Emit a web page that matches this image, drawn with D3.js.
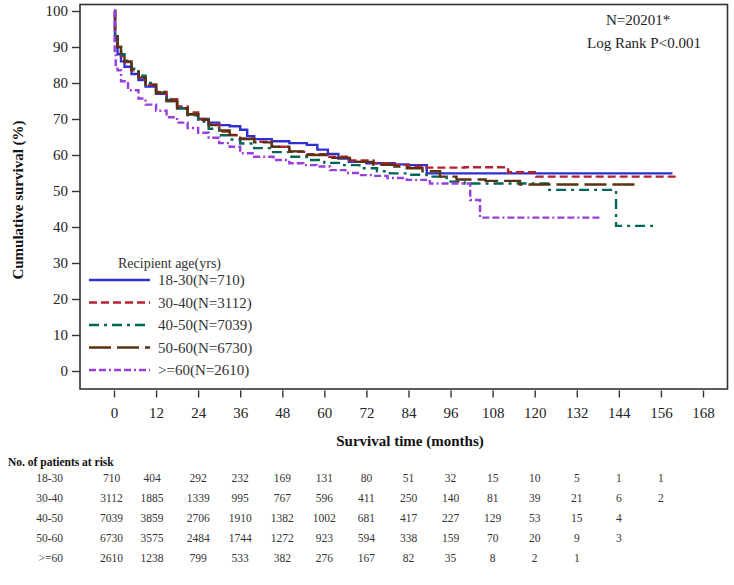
<!DOCTYPE html>
<html>
<head>
<meta charset="utf-8">
<script src="https://cdn.jsdelivr.net/npm/d3@7"></script>
<style>
  html, body { margin: 0; padding: 0; background: #fff; }
  svg { display: block; }
  text { font-family: "Liberation Serif", "Times New Roman", serif; }
</style>
</head>
<body>
<svg id="chart" width="734" height="585"></svg>
<script>
// ---------------- DATA ----------------
const groupLabels = ["18-30(N=710)", "30-40(N=3112)", "40-50(N=7039)", "50-60(N=6730)", ">=60(N=2610)"];
const riskLabels = ["18-30", "30-40", "40-50", "50-60", ">=60"];
const xTicks = [0, 12, 24, 36, 48, 60, 72, 84, 96, 108, 120, 132, 144, 156, 168];
const yTicks = [0, 10, 20, 30, 40, 50, 60, 70, 80, 90, 100];

// Kaplan-Meier steps [month, survival %]
const surv18_30 = [[0,100],[0.3,92],[1,88],[2,86],[3,84.5],[5,82.5],[7,80.8],[9,79],[12,77],[15,75],[18,73],[21,71.3],[24,70],[27,69],[30,68.3],[33,68],[36,67],[38,65.2],[40,64.4],[45,63.8],[50,63.3],[55,62.8],[58,61.5],[61,60.3],[64,59],[67,58.1],[72,57.7],[80,57.4],[84,57.2],[89.2,54.9],[159.3,54.9]];
const surv30_40 = [[0,100],[0.3,93],[1,90],[2,87.5],[3,85.8],[5,83.5],[7,81.5],[9,79.5],[12,77.5],[15,75.5],[18,73.5],[21,71.8],[24,70],[27,68.5],[30,66.5],[33,65.5],[36,64.6],[40,63.7],[45,62.3],[50,60.9],[55,60.2],[61,59.5],[67,58.5],[74,57.7],[80,57.2],[84,56.8],[88,56.5],[100,56.6],[112.4,55.2],[120.4,54.0],[160.5,54.0]];
const surv40_50 = [[0,100],[0.3,93],[1,90],[2,88],[3,86.2],[5,84],[7,82],[9,80],[12,77.5],[15,75.3],[18,73],[21,71],[24,69.3],[27,67.3],[30,65.5],[33,64.3],[36,63.2],[40,61.9],[45,60.8],[50,59.5],[55,58.6],[60,57.8],[64.5,57.2],[70,56.3],[75,55.5],[78.7,54.9],[84,54.5],[89.2,54.0],[94.9,52.6],[100,52.1],[123.8,50.3],[143.2,40.3],[154.9,40.3]];
const surv50_60 = [[0,100],[0.3,93],[1,90],[2,87.8],[3,86],[5,83.5],[7,81.5],[9,79.5],[12,77.3],[15,75],[18,73],[21,71.3],[24,69.8],[27,68.3],[30,66.8],[33,65.6],[36,64.4],[40,63.5],[45,62.3],[50,61.0],[55,60],[61,59.2],[67.3,58.1],[74,57.3],[80,56.8],[83.5,56.3],[88,55.5],[93,54.0],[97.7,53.2],[106,52.8],[115.8,51.8],[149.5,51.8]];
const surv60plus = [[0,100],[0.2,88],[0.5,85],[1,83.5],[2,80.5],[4,78],[7,75.7],[9,74],[12,72.3],[15,70.5],[18,69],[21,67.5],[24,66.2],[27,64.8],[30,63.3],[33,62.3],[36,60.5],[40,59.5],[45.5,58.6],[50,57.7],[54,57.2],[57.8,56.8],[61.6,55.8],[66,55],[70,54.4],[74,54.2],[78,53.6],[83.5,53.1],[90.1,52.1],[101.6,47.5],[104.4,42.6],[138.6,42.6]];

// Numbers at risk, per group, at xTicks
const risk18_30 = [710, 404, 292, 232, 169, 131, 80, 51, 32, 15, 10, 5, 1, 1];
const risk30_40 = [3112, 1885, 1339, 995, 767, 596, 411, 250, 140, 81, 39, 21, 6, 2];
const risk40_50 = [7039, 3859, 2706, 1910, 1382, 1002, 681, 417, 227, 129, 53, 15, 4];
const risk50_60 = [6730, 3575, 2484, 1744, 1272, 923, 594, 338, 159, 70, 20, 9, 3];
const risk60plus = [2610, 1238, 799, 533, 382, 276, 167, 82, 35, 8, 2, 1];

// ---------------- STYLE ----------------
const series = [surv18_30, surv30_40, surv40_50, surv50_60, surv60plus];
const riskRows = [risk18_30, risk30_40, risk40_50, risk50_60, risk60plus];
const colors = ["#2f2fd6", "#b42232", "#00665a", "#5a3210", "#9a3ee0"];
const dashes = [null, "8,4", "10,5,3,5", "22,6", "7,3,7,3,2,3"];

const svg = d3.select("#chart");
const frame = {left: 80, right: 727.5, top: 4.5, bottom: 389};

const x = d3.scaleLinear().domain([0, 168]).range([114, 703]);
const y = d3.scaleLinear().domain([0, 100]).range([371, 11]);

// frame
svg.append("rect")
  .attr("x", frame.left).attr("y", frame.top)
  .attr("width", frame.right - frame.left).attr("height", frame.bottom - frame.top)
  .attr("fill", "none").attr("stroke", "#333").attr("stroke-width", 1.6);

// y axis
const yAxis = svg.append("g").attr("transform", `translate(${frame.left},0)`)
  .call(d3.axisLeft(y).tickValues(yTicks).tickSize(8).tickPadding(4));
yAxis.select(".domain").remove();
yAxis.selectAll("line").attr("stroke", "#333").attr("stroke-width", 1.4);
yAxis.selectAll("text").attr("font-size", 15).attr("fill", "#222")
  .style("font-family", "'Liberation Serif', serif");

// x axis
const xAxis = svg.append("g").attr("transform", `translate(0,${frame.bottom + 1.5})`)
  .call(d3.axisBottom(x).tickValues(xTicks).tickSize(7).tickPadding(10));
xAxis.select(".domain").remove();
xAxis.selectAll("line").attr("stroke", "#333").attr("stroke-width", 1.4);
xAxis.selectAll("text").attr("font-size", 15).attr("fill", "#222")
  .style("font-family", "'Liberation Serif', serif");

// axis titles
svg.append("text").attr("x", 410).attr("y", 446).attr("text-anchor", "middle")
  .attr("font-size", 15).attr("font-weight", "bold").attr("fill", "#111")
  .text("Survival time (months)");
svg.append("text").attr("transform", "translate(23,200) rotate(-90)")
  .attr("text-anchor", "middle").attr("font-size", 15).attr("font-weight", "bold").attr("fill", "#111")
  .text("Cumulative survival (%)");

// annotations
svg.append("text").attr("x", 606).attr("y", 25).attr("font-size", 15).attr("fill", "#222").text("N=20201*");
svg.append("text").attr("x", 587).attr("y", 48).attr("font-size", 15).attr("fill", "#222").text("Log Rank P<0.001");

// curves
const line = d3.line().x(d => x(d[0])).y(d => y(d[1])).curve(d3.curveStepAfter);
series.forEach((s, i) => {
  svg.append("path").datum(s)
    .attr("d", line)
    .attr("fill", "none")
    .attr("stroke", colors[i])
    .attr("stroke-width", 2.4)
    .attr("stroke-dasharray", dashes[i]);
});

// legend
svg.append("text").attr("x", 118).attr("y", 268).attr("font-size", 14).attr("fill", "#333")
  .text("Recipient age(yrs)");
const legendY = [280, 302.5, 325, 347.5, 370];
groupLabels.forEach((lab, i) => {
  svg.append("line").attr("x1", 89).attr("x2", 150).attr("y1", legendY[i]).attr("y2", legendY[i])
    .attr("stroke", colors[i]).attr("stroke-width", 2.4).attr("stroke-dasharray", dashes[i]);
  svg.append("text").attr("x", 158).attr("y", legendY[i] + 5).attr("font-size", 15).attr("fill", "#333")
    .text(lab);
});

// risk table
svg.append("text").attr("x", 8).attr("y", 466).attr("font-size", 11.5).attr("font-weight", "bold").attr("fill", "#111")
  .text("No. of patients at risk");
const rowY = [482, 502, 522, 542, 562];
riskLabels.forEach((lab, i) => {
  svg.append("text").attr("x", 63).attr("y", rowY[i]).attr("text-anchor", "end")
    .attr("font-size", 11.5).attr("fill", "#333").text(lab);
  svg.append("g").selectAll("text").data(riskRows[i]).join("text")
    .attr("x", (d, j) => x(xTicks[j]) - (j === 0 ? 2.5 : j === 1 ? 4 : 0))
    .attr("y", rowY[i]).attr("text-anchor", "middle")
    .attr("font-size", 11.5).attr("fill", "#333")
    .text(d => d);
});
</script>
</body>
</html>
